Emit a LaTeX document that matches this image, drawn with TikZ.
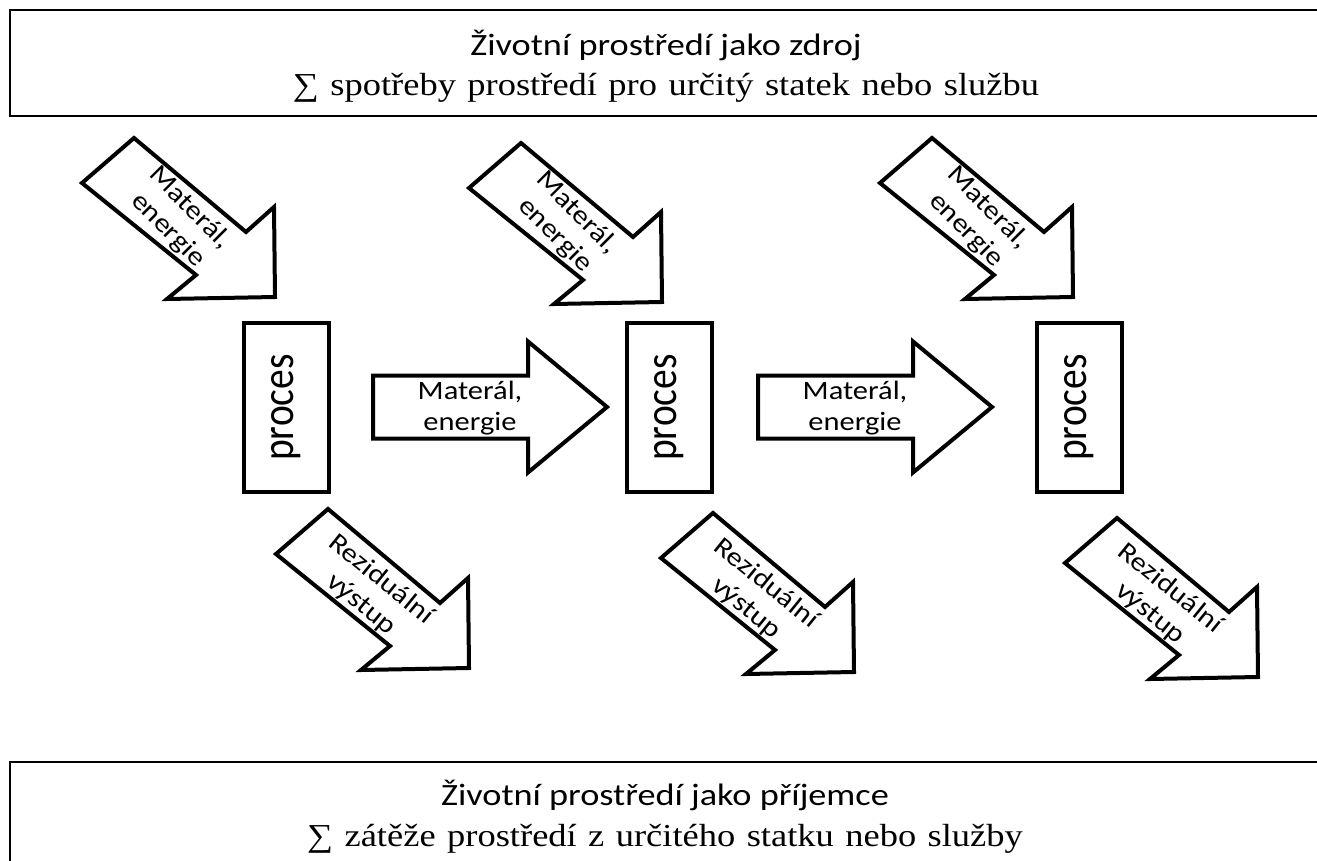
\documentclass[tikz,border=0pt]{standalone}
\usepackage{fontspec}
\usepackage{graphicx}
\newfontfamily\labelfont[FakeStretch=1.15]{Carlito}
\newfontfamily\plainfont{Carlito}
\newfontfamily\titlefont[FakeStretch=1.17]{Carlito}
\newfontfamily\sumfont[FakeStretch=1.14,WordSpace=1.25]{Liberation Serif}
\begin{document}
\begin{tikzpicture}[x=1pt,y=-1pt,
  frame/.style={draw, line width=2pt},
  outline/.style={draw, line width=4pt, line join=miter, fill=white},
  procbox/.style={draw, line width=4pt, minimum width=169pt, minimum height=85pt,
    rotate=90, inner sep=0pt, font=\plainfont\fontsize{39.5}{47}\selectfont},
  tag/.style={align=center, inner sep=0pt, font=\labelfont\fontsize{26.5}{31.5}\selectfont},
  titleA/.style={anchor=base, inner sep=0pt, font=\titlefont\fontsize{31}{37}\selectfont},
  titleB/.style={anchor=base, inner sep=0pt, font=\sumfont\fontsize{32}{38}\selectfont},
  diagarrow/.pic={\draw[outline] (-141,-159) -- (-29,-65) -- (-1,-90) -- (0,0)
      -- (-108,2) -- (-79,-22) -- (-193,-114) -- cycle;},
  flowarrow/.pic={\draw[outline] (-234,-31.5) -- (-79,-31.5) -- (-79,-65.5) -- (0,0)
      -- (-79,65.5) -- (-79,31.5) -- (-234,31.5) -- cycle;}
]
\useasboundingbox (0,0) rectangle (1317,861);
\clip (0,0) rectangle (1317,861);

% environment as a source
\draw[frame] (10,10) rectangle (1330,116);
\node[titleA] (srcA) at (666,56) {Životní prostředí jako zdroj};
\node[titleB] (srcB) at (666,96) {∑ spotřeby prostředí pro určitý statek nebo službu};

% environment as a receiver
\draw[frame] (10,762) rectangle (1330,890);
\node[titleA] (sinkA) at (665,805) {Životní prostředí jako příjemce};
\node[titleB] (sinkB) at (665,846) {∑ zátěže prostředí z určitého statku nebo služby};

% process steps
\node[procbox] (p1) at (286.5,407.5) {\scalebox{1}[1.15]{proces}};
\node[procbox] (p2) at (669.5,407.5) {\scalebox{1}[1.15]{proces}};
\node[procbox] (p3) at (1079.5,407.5) {\scalebox{1}[1.15]{proces}};

% inputs from the environment
\foreach \tx/\ty/\n in {275/297/1, 662/302/2, 1073/297/3}{
  \pic at (\tx,\ty) {diagarrow};
  \node[tag, rotate=-45] (in\n) at (\tx-96,\ty-78) {Materál,\\energie};
}

% flows between steps
\foreach \tx/\n in {607/1, 992/2}{
  \pic at (\tx,407) {flowarrow};
  \node[tag] (flow\n) at (\tx-137,408) {Materál,\\energie};
}

% residual outputs
\foreach \tx/\ty/\n in {469/668/1, 854/672/2, 1258/677/3}{
  \pic at (\tx,\ty) {diagarrow};
  \node[tag, rotate=-39] (out\n) at (\tx-98,\ty-76) {Reziduální\\výstup};
}
\end{tikzpicture}
\end{document}
